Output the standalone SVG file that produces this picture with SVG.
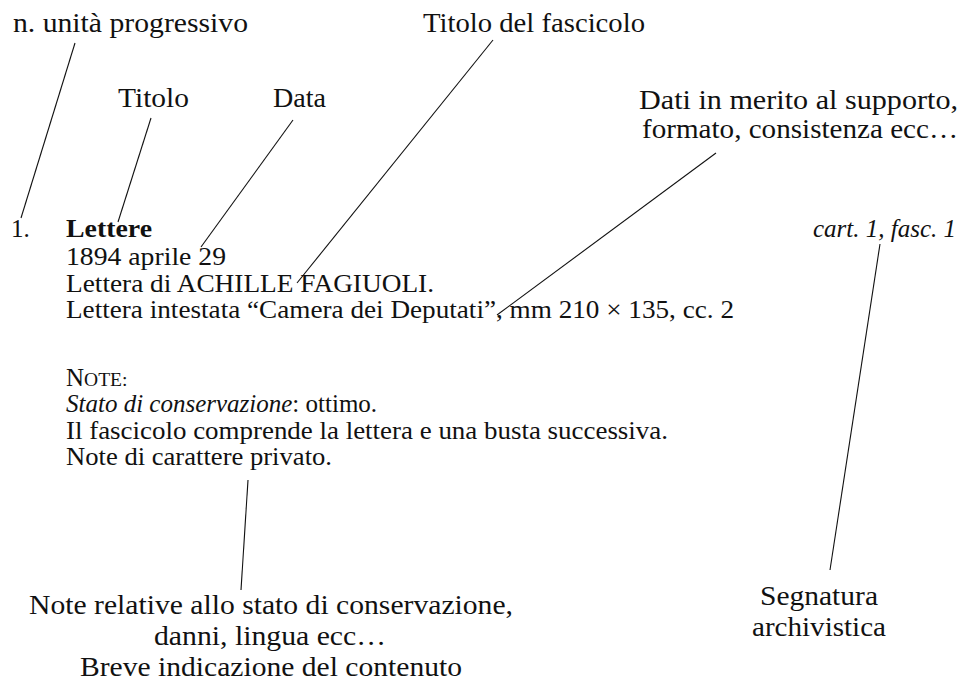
<svg xmlns="http://www.w3.org/2000/svg" width="963" height="698" viewBox="0 0 963 698">
<style>
text{font-family:"Liberation Serif","DejaVu Serif",serif;font-size:25px;fill:#111}
.l{font-size:27px}
.b{font-weight:bold}
.i{font-style:italic}
line{stroke:#111;stroke-width:1.1}
</style>
<rect width="963" height="698" fill="#fff"/>
<g id="scheda">
<text x="11" y="237">1.</text>
<text x="66" y="237" class="b" textLength="86" lengthAdjust="spacingAndGlyphs">Lettere</text>
<text x="66" y="265" textLength="160" lengthAdjust="spacingAndGlyphs">1894 aprile 29</text>
<text x="66" y="292" textLength="368" lengthAdjust="spacingAndGlyphs">Lettera di ACHILLE FAGIUOLI.</text>
<text x="66" y="318" textLength="668" lengthAdjust="spacingAndGlyphs">Lettera intestata “Camera dei Deputati”, mm 210 × 135, cc. 2</text>
<text x="66" y="386">N<tspan font-size="19.5">OTE:</tspan></text>
<text x="66" y="412"><tspan class="i">Stato di conservazione</tspan>: ottimo.</text>
<text x="66" y="439" textLength="602" lengthAdjust="spacingAndGlyphs">Il fascicolo comprende la lettera e una busta successiva.</text>
<text x="66" y="465" textLength="266" lengthAdjust="spacingAndGlyphs">Note di carattere privato.</text>
<text x="956" y="237" class="i" font-size="22" text-anchor="end">cart. 1, fasc. 1</text>
</g>
<g id="lbl-unita"><text x="13" y="32" class="l" textLength="235" lengthAdjust="spacingAndGlyphs">n. unità progressivo</text></g>
<g id="lbl-titolofasc"><text x="423" y="32" class="l" textLength="222" lengthAdjust="spacingAndGlyphs">Titolo del fascicolo</text></g>
<g id="lbl-titolo"><text x="118" y="107" class="l" textLength="71" lengthAdjust="spacingAndGlyphs">Titolo</text></g>
<g id="lbl-data"><text x="273" y="107" class="l" textLength="53" lengthAdjust="spacingAndGlyphs">Data</text></g>
<g id="lbl-dati"><text x="639" y="109" class="l" textLength="319" lengthAdjust="spacingAndGlyphs">Dati in merito al supporto,</text><text x="642" y="138" class="l" textLength="316" lengthAdjust="spacingAndGlyphs">formato, consistenza ecc…</text></g>
<g id="lbl-note"><text x="29" y="614" class="l" textLength="484" lengthAdjust="spacingAndGlyphs">Note relative allo stato di conservazione,</text><text x="154" y="645" class="l" textLength="232" lengthAdjust="spacingAndGlyphs">danni, lingua ecc…</text><text x="80" y="676" class="l" textLength="382" lengthAdjust="spacingAndGlyphs">Breve indicazione del contenuto</text></g>
<g id="lbl-segnatura"><text x="760" y="605" class="l" textLength="118" lengthAdjust="spacingAndGlyphs">Segnatura</text><text x="752" y="636" class="l" textLength="134" lengthAdjust="spacingAndGlyphs">archivistica</text></g>
<g id="connectors">
<line x1="75" y1="43" x2="21" y2="218"/>
<line x1="151" y1="118" x2="118" y2="222"/>
<line x1="293" y1="120" x2="201" y2="247"/>
<line x1="493" y1="40" x2="297" y2="283"/>
<line x1="716" y1="153" x2="497" y2="315"/>
<line x1="880" y1="244" x2="830" y2="570"/>
<line x1="248" y1="480" x2="241" y2="590"/>
</g>
</svg>
